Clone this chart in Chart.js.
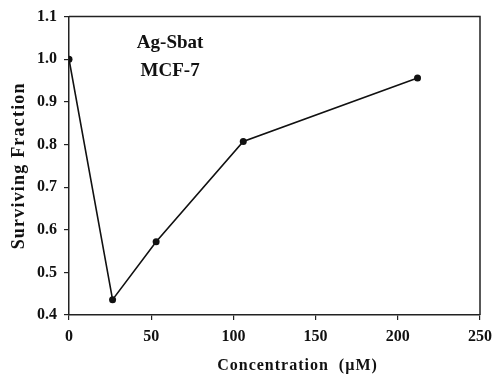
<!DOCTYPE html>
<html>
<head>
<meta charset="utf-8">
<script src="https://cdn.jsdelivr.net/npm/chart.js@4"></script>
<style>
    html, body { margin: 0; padding: 0; background: #fff; }
    #wrap { width: 499px; height: 377px; }
</style>
</head>
<body>
<div id="wrap"><canvas id="chart" width="499" height="377"></canvas></div>
<script>
// data
const concentration = [0, 26.5, 53, 106, 212];
const survivingFraction = [1.0, 0.436, 0.572, 0.807, 0.956];
const xTicks = [0, 50, 100, 150, 200, 250];
const yTicks = [0.4, 0.5, 0.6, 0.7, 0.8, 0.9, 1.0, 1.1];
const labelLines = ['Ag-Sbat', 'MCF-7'];
const xTitle = 'Concentration  (\u00b5M)';
const yTitle = 'Surviving Fraction';

const serif = '"Liberation Serif", "Times New Roman", serif';
const ink = '#111';

// frame on top/right, axis titles and the inset label
const decor = {
    id: 'decor',
    afterDraw(chart) {
        const { ctx, chartArea: a, scales } = chart;
        ctx.save();
        ctx.strokeStyle = '#222';
        ctx.lineWidth = 1.5;
        ctx.beginPath();
        ctx.moveTo(a.left, a.top);
        ctx.lineTo(a.right, a.top);
        ctx.lineTo(a.right, a.bottom);
        ctx.stroke();

        ctx.fillStyle = ink;
        ctx.textAlign = 'center';
        ctx.textBaseline = 'middle';

        ctx.font = 'bold 19px ' + serif;
        const lx = scales.x.getPixelForValue(61.5);
        ctx.fillText(labelLines[0], lx, scales.y.getPixelForValue(1.037));
        ctx.fillText(labelLines[1], lx, scales.y.getPixelForValue(0.971));

        ctx.font = 'bold 16px ' + serif;
        ctx.letterSpacing = '1px';
        ctx.fillText(xTitle, scales.x.getPixelForValue(139), 366);

        ctx.font = 'bold 18px ' + serif;
        ctx.letterSpacing = '1.2px';
        ctx.translate(19, (a.top + a.bottom) / 2);
        ctx.rotate(-Math.PI / 2);
        ctx.fillText(yTitle, 0, 0);
        ctx.restore();
    }
};

new Chart(document.getElementById('chart'), {
    type: 'scatter',
    data: {
        datasets: [{
            data: concentration.map((c, i) => ({ x: c, y: survivingFraction[i] })),
            showLine: true,
            borderColor: ink,
            backgroundColor: ink,
            borderWidth: 1.6,
            pointRadius: 3.5,
            pointBorderWidth: 0
        }]
    },
    options: {
        responsive: false,
        animation: false,
        layout: { padding: { top: 16, right: 17, left: 0, bottom: 0 } },
        plugins: { legend: { display: false }, tooltip: { enabled: false } },
        scales: {
            x: {
                type: 'linear',
                min: 0, max: 250,
                afterFit: s => { s.height = 62; },
                afterBuildTicks: s => { s.ticks = xTicks.map(v => ({ value: v })); },
                border: { display: true, color: '#222', width: 1.5 },
                grid: { drawOnChartArea: false, drawTicks: true, tickLength: 5, color: '#222', lineWidth: 1.2 },
                ticks: { color: ink, padding: 7, font: { family: serif, size: 16, weight: 'bold' }, maxRotation: 0 }
            },
            y: {
                min: 0.4, max: 1.1,
                afterFit: s => { s.width = 69; },
                afterBuildTicks: s => { s.ticks = yTicks.map(v => ({ value: v })); },
                border: { display: true, color: '#222', width: 1.5 },
                grid: { drawOnChartArea: false, drawTicks: true, tickLength: 5, color: '#222', lineWidth: 1.2 },
                ticks: {
                    color: ink, padding: 7,
                    font: { family: serif, size: 16, weight: 'bold' },
                    callback: v => v.toFixed(1)
                }
            }
        }
    },
    plugins: [decor]
});
</script>
</body>
</html>
